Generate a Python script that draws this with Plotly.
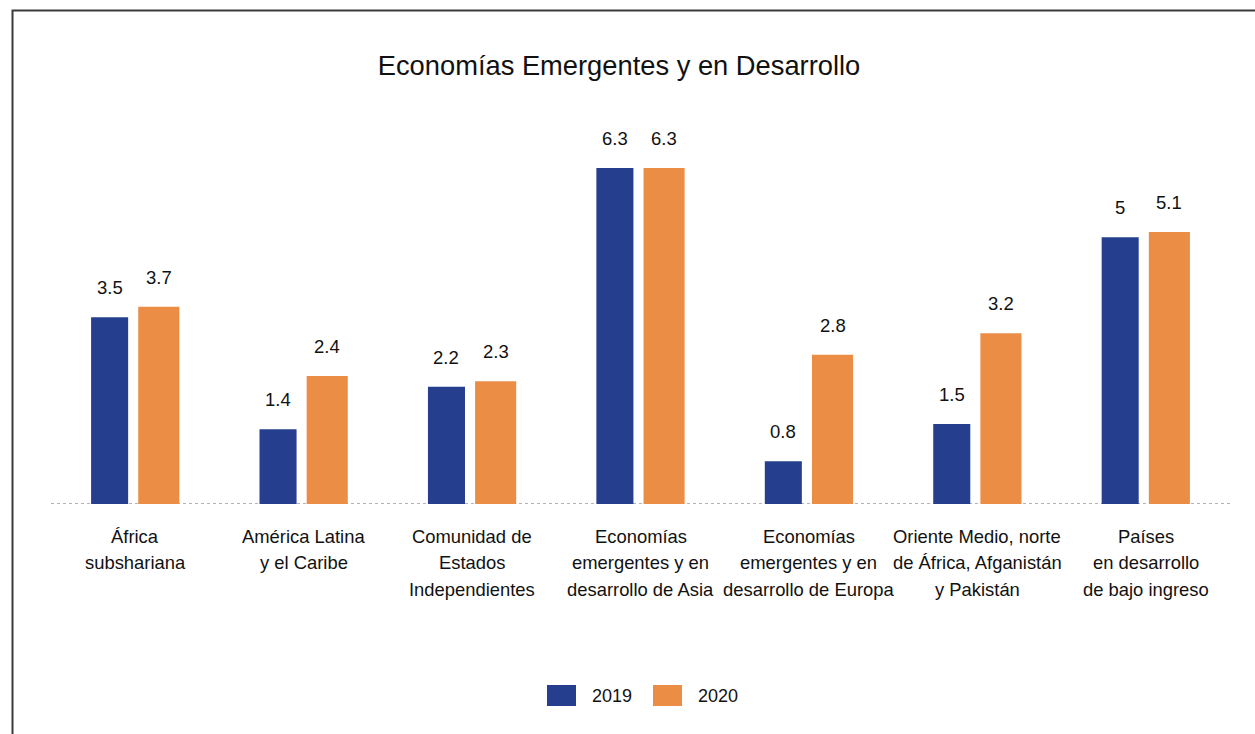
import plotly.graph_objects as go

title = "Economías Emergentes y en Desarrollo"
categories = [
    "África<br>subshariana",
    "América Latina<br>y el Caribe",
    "Comunidad de<br>Estados<br>Independientes",
    "Economías<br>emergentes y en<br>desarrollo de Asia",
    "Economías<br>emergentes y en<br>desarrollo de Europa",
    "Oriente Medio, norte<br>de África, Afganistán<br>y Pakistán",
    "Países<br>en desarrollo<br>de bajo ingreso",
]
series_names = ["2019", "2020"]
values_2019 = [3.5, 1.4, 2.2, 6.3, 0.8, 1.5, 5.0]
values_2020 = [3.7, 2.4, 2.3, 6.3, 2.8, 3.2, 5.1]
labels_2019 = ["3.5", "1.4", "2.2", "6.3", "0.8", "1.5", "5"]
labels_2020 = ["3.7", "2.4", "2.3", "6.3", "2.8", "3.2", "5.1"]

colors = ["#253F8E", "#EB8D45"]
FONT = "Liberation Sans, Arial, sans-serif"

# bar geometry (category units)
offsets = [-0.262, 0.018]
widths = [0.220, 0.244]

fig = go.Figure()
xs = list(range(len(categories)))
for name, vals, col, off, w in zip(series_names, [values_2019, values_2020], colors, offsets, widths):
    fig.add_trace(go.Bar(
        x=xs, y=vals, name=name, marker=dict(color=col, line=dict(width=0)),
        offset=off, width=w, showlegend=False,
    ))

annotations = []
# value labels
for vals, labs, off, w in zip([values_2019, values_2020], [labels_2019, labels_2020], offsets, widths):
    for i, (v, t) in enumerate(zip(vals, labs)):
        annotations.append(dict(
            x=i + off + w / 2, y=v, xref="x", yref="y", text=t, showarrow=False,
            yanchor="bottom", yshift=17, font=dict(size=18.5, color="#111", family=FONT),
        ))

# category labels, one annotation per line
for i, cat in enumerate(categories):
    for j, line in enumerate(cat.split("<br>")):
        annotations.append(dict(
            x=i, y=0, xref="x", yref="paper", text=line, showarrow=False,
            yanchor="middle", yshift=-32 - j * 26.5,
            font=dict(size=18.4, color="#111", family=FONT),
        ))

# custom legend
L, PW, B, PH = 51, 1179, 504, 400
def px(xp):
    return (xp - L) / PW
def py(yp):
    return (B - yp) / PH

shapes = []
# dotted baseline at zero
shapes.append(dict(type="line", xref="paper", yref="y", x0=0, x1=1, y0=0, y1=0,
                   line=dict(color="#9a9a9a", width=1.5, dash="dot"), layer="below"))

leg_boxes = [(547, 576), (653, 682)]
leg_text_x = [590, 696]
for (x0, x1), tx, col, name in zip(leg_boxes, leg_text_x, colors, series_names):
    shapes.append(dict(type="rect", xref="paper", yref="paper",
                       x0=px(x0), x1=px(x1), y0=py(706), y1=py(685),
                       fillcolor=col, line=dict(width=0)))
    annotations.append(dict(x=px(tx), y=py(695.5), xref="paper", yref="paper",
                            text=name, showarrow=False, xanchor="left", yanchor="middle",
                            font=dict(size=18, color="#111", family=FONT)))

# outer frame
shapes.append(dict(type="rect", xref="paper", yref="paper",
                   x0=px(12.5), x1=px(1262), y0=py(745), y1=py(10.5),
                   line=dict(color="#3a3a3a", width=2), fillcolor="rgba(0,0,0,0)", layer="above"))

fig.update_layout(
    width=1255, height=734,
    margin=dict(l=L, r=1255 - L - PW, t=B - PH, b=734 - B),
    paper_bgcolor="white", plot_bgcolor="white",
    barmode="overlay",
    title=dict(text=title, x=619 / 1255, xanchor="center", xref="container",
               y=1 - 65 / 734, yanchor="middle", yref="container",
               font=dict(size=27.3, color="#111", family=FONT)),
    xaxis=dict(range=[-0.5, 6.5], showticklabels=False, showgrid=False,
               zeroline=False, showline=False, ticks=""),
    yaxis=dict(range=[0, 7.5], showticklabels=False, showgrid=False,
               zeroline=False, showline=False, ticks=""),
    annotations=annotations, shapes=shapes,
    font=dict(family=FONT),
)

fig.write_html("out.html")
